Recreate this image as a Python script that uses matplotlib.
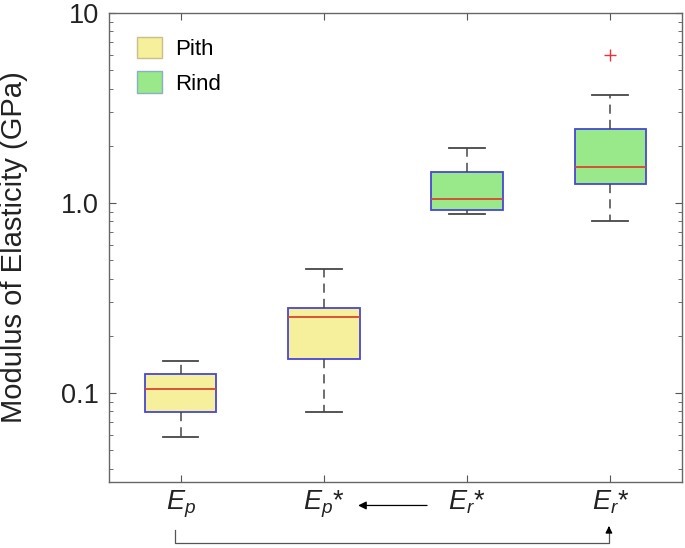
import matplotlib
matplotlib.use('Agg')
import matplotlib.pyplot as plt
from matplotlib.patches import Patch
from matplotlib.ticker import LogLocator, FixedLocator, NullFormatter

# данные
labels = [r'$E_p$', r'$E_p$*', r'$E_r$*', r'$E_r$*']
groups = ['Pith', 'Pith', 'Rind', 'Rind']
whis_lo = [0.059, 0.079, 0.875, 0.80]
q1 = [0.079, 0.151, 0.918, 1.26]
med = [0.105, 0.252, 1.05, 1.55]
q3 = [0.126, 0.281, 1.457, 2.46]
whis_hi = [0.148, 0.451, 1.95, 3.72]
outliers = [[], [], [], [6.04]]

colors = {'Pith': '#f6ef9b', 'Rind': '#99e98a'}
legend_edges = {'Pith': '#c8c088', 'Rind': '#88b0c0'}

plt.rcParams['font.family'] = ['Liberation Sans', 'DejaVu Sans']
plt.rcParams['mathtext.fontset'] = 'custom'
plt.rcParams['mathtext.rm'] = 'Liberation Sans'
plt.rcParams['mathtext.it'] = 'Liberation Sans:italic'

fig = plt.figure(figsize=(6.85, 5.48), dpi=100)
ax = fig.add_axes([0.159, 0.1204, 0.8366, 0.8559])

stats = []
for i in range(len(labels)):
    stats.append({'med': med[i], 'q1': q1[i], 'q3': q3[i],
                  'whislo': whis_lo[i], 'whishi': whis_hi[i],
                  'fliers': outliers[i], 'label': labels[i]})

bp = ax.bxp(stats, positions=[1, 2, 3, 4], widths=0.5, patch_artist=True,
            capwidths=0.25,
            boxprops=dict(edgecolor='#4646d6', linewidth=1.3),
            medianprops=dict(color='#d8462e', linewidth=1.3),
            whiskerprops=dict(color='#474747', linewidth=1.1, linestyle=(0, (6, 4))),
            capprops=dict(color='#474747', linewidth=1.3),
            flierprops=dict(marker='+', markeredgecolor='#e8333a', markersize=9,
                            markeredgewidth=1.0, linestyle='none'))
for box, g in zip(bp['boxes'], groups):
    box.set_facecolor(colors[g])

ax.set_yscale('log')
ax.set_ylim(0.034, 10)
ax.set_xlim(0.5, 4.5)
ax.yaxis.set_major_locator(FixedLocator([0.1, 1.0, 10]))
ax.set_yticklabels(['0.1', '1.0', '10'])
ax.yaxis.set_minor_locator(LogLocator(base=10, subs=range(2, 10)))
ax.yaxis.set_minor_formatter(NullFormatter())

ax.set_xticks([1, 2, 3, 4])
ax.set_xticklabels(labels)
ax.tick_params(which='both', direction='in', top=True, right=True, color='#555555')
ax.tick_params(which='major', length=5, labelsize=19.5, labelcolor='#222222', pad=7)
ax.tick_params(axis='x', which='major', pad=5)
ax.tick_params(which='minor', length=3)
for s in ax.spines.values():
    s.set_color('#666666')
    s.set_linewidth(1.0)

ax.set_ylabel('Modulus of Elasticity (GPa)', fontsize=21, color='#222222')
ax.yaxis.set_label_coords(-0.141, 0.5)

handles = [Patch(facecolor=colors[g], edgecolor=legend_edges[g], label=g) for g in ['Pith', 'Rind']]
ax.legend(handles=handles, loc='upper left', bbox_to_anchor=(0.022, 0.982), frameon=False,
          fontsize=16, handlelength=1.12, handleheight=1.1, handletextpad=0.6,
          labelspacing=0.5, borderaxespad=0.3)

# стрелки под осью
tr = ax.get_xaxis_transform()
ax.annotate('', xy=(2.22, -0.05), xytext=(2.74, -0.05), xycoords=tr, textcoords=tr,
            arrowprops=dict(arrowstyle='-|>', color='black', lw=0.9,
                            mutation_scale=12), annotation_clip=False)
ax.plot([0.96, 0.96, 3.99, 3.99], [-0.102, -0.130, -0.130, -0.100], transform=tr,
        color='#555555', lw=0.9, clip_on=False)
ax.annotate('', xy=(3.99, -0.088), xytext=(3.99, -0.105), xycoords=tr, textcoords=tr,
            arrowprops=dict(arrowstyle='-|>', color='black', lw=0.9,
                            mutation_scale=10), annotation_clip=False)

fig.savefig('out.png', dpi=100)
